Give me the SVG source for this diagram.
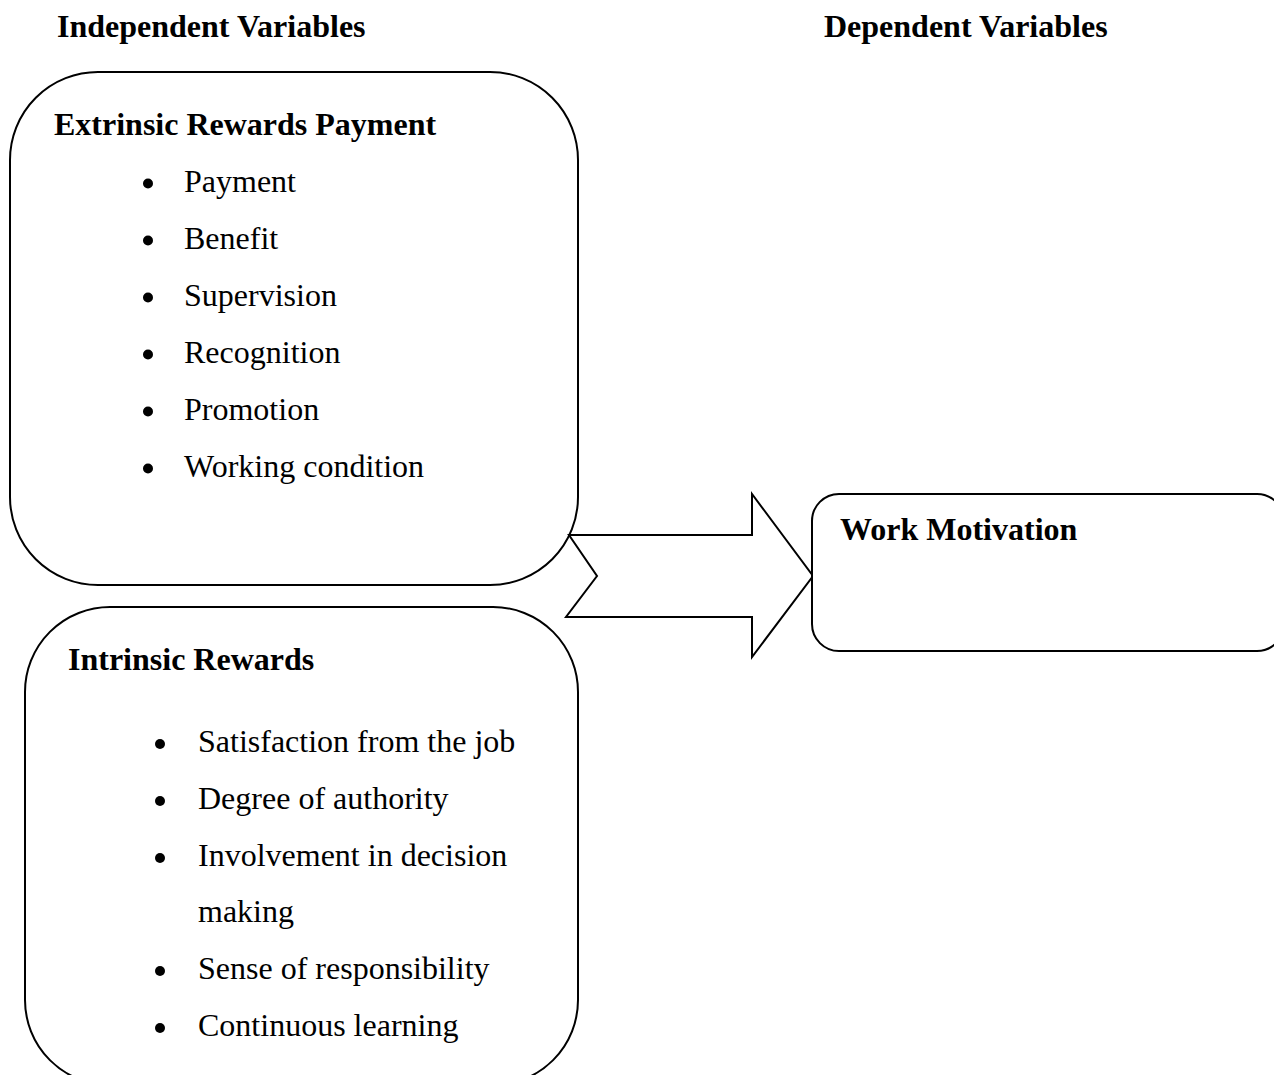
<svg xmlns="http://www.w3.org/2000/svg" width="1274" height="1075" viewBox="0 0 1274 1075">
<style>
.box{fill:#fff;stroke:#000;stroke-width:2}
.t{font-family:"Liberation Serif","Times New Roman",serif;font-size:32px;fill:#000}
.b{font-weight:bold}
.dot{fill:#000}
</style>
<rect width="1274" height="1075" fill="#fff"/>
<text class="t b" x="57" y="37">Independent Variables</text>
<text class="t b" x="824" y="37">Dependent Variables</text>
<g id="extrinsic">
<rect class="box" x="10" y="72" width="568" height="513" rx="88" ry="88"/>
<text class="t b" x="54" y="135">Extrinsic Rewards Payment</text>
<circle class="dot" cx="148" cy="183.5" r="5"/><text class="t" x="184" y="192">Payment</text>
<circle class="dot" cx="148" cy="240.5" r="5"/><text class="t" x="184" y="249">Benefit</text>
<circle class="dot" cx="148" cy="297.5" r="5"/><text class="t" x="184" y="306">Supervision</text>
<circle class="dot" cx="148" cy="354.5" r="5"/><text class="t" x="184" y="363">Recognition</text>
<circle class="dot" cx="148" cy="411.5" r="5"/><text class="t" x="184" y="420">Promotion</text>
<circle class="dot" cx="148" cy="468.5" r="5"/><text class="t" x="184" y="477">Working condition</text>
</g>
<g id="intrinsic">
<rect class="box" x="25" y="607" width="553" height="478" rx="85" ry="85"/>
<text class="t b" x="68" y="670">Intrinsic Rewards</text>
<circle class="dot" cx="160" cy="744" r="5"/><text class="t" x="198" y="752">Satisfaction from the job</text>
<circle class="dot" cx="160" cy="801" r="5"/><text class="t" x="198" y="809">Degree of authority</text>
<circle class="dot" cx="160" cy="858" r="5"/><text class="t" x="198" y="866">Involvement in decision</text>
<text class="t" x="198" y="922">making</text>
<circle class="dot" cx="160" cy="971" r="5"/><text class="t" x="198" y="979">Sense of responsibility</text>
<circle class="dot" cx="160" cy="1028" r="5"/><text class="t" x="198" y="1036">Continuous learning</text>
</g>
<g id="connectors">
<path class="box" stroke-linejoin="miter" d="M569,535 L752,535 L752,494 L813,576 L752,657 L752,617 L566,617 L597,576 Z"/>
</g>
<g id="work-motivation">
<rect class="box" x="812" y="494" width="472" height="157" rx="27" ry="27"/>
<text class="t b" x="840" y="540">Work Motivation</text>
</g>
</svg>
